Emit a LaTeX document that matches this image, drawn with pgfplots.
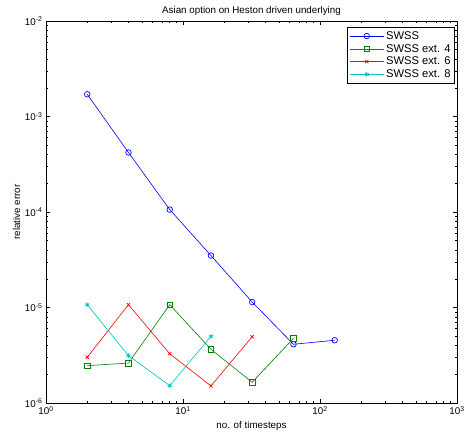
\documentclass[border=0pt]{standalone}
\usepackage{fontspec}
\setmainfont{Liberation Sans}
\usepackage{pgfplots}
\pgfplotsset{compat=1.18}
\usetikzlibrary{calc}
\definecolor{mgreen}{rgb}{0,0.5,0}
\definecolor{mcyan}{rgb}{0,0.75,0.75}
\newcommand\tl[1]{10\textsuperscript{#1}}

\begin{document}
\begin{tikzpicture}
\begin{axis}[
    name=ax,
    scale only axis,
    width=411bp, height=382bp,
    xmode=log, ymode=log,
    xmin=1, xmax=1000,
    ymin=1e-6, ymax=1e-2,
    xtick={1,10,100,1000},
    xticklabels={\tl{0},\tl{1},\tl{2},\tl{3}},
    ytick={1e-6,1e-5,1e-4,1e-3,1e-2},
    yticklabels={\tl{-6},\tl{-5},\tl{-4},\tl{-3},\tl{-2}},
    tick align=inside,
    major tick length=4bp,
    minor tick length=2bp,
    every tick/.style={black, line width=0.5bp},
    axis line style={line width=0.8bp},
    font=\fontsize{9.8bp}{11bp}\selectfont,
    ticklabel style={font=\fontsize{9.8bp}{11bp}\selectfont},
    title={Asian option on Heston driven underlying},
    title style={yshift=-4bp},
    xlabel={no. of timesteps},
    ylabel={relative error},
    xlabel style={yshift=0bp},
    ylabel style={yshift=-2bp},
    legend style={at={(1,1)}, anchor=north east, xshift=-2bp, yshift=-6bp,
        draw=black, line width=0.8bp, font=\fontsize{11.2bp}{13bp}\selectfont,
        row sep=-0.5bp, inner sep=2bp},
    legend cell align=left,
    legend image code/.code={
        \draw[mark repeat=2,mark phase=2] plot coordinates {(0bp,0bp) (17bp,0bp) (34bp,0bp)};
    },
    every axis plot/.append style={line width=0.6bp},
]
\addplot[color=blue, mark=o, mark size=2.8bp, mark options={line width=0.7bp}] coordinates {
    (2,1.71e-3) (4,4.2e-4) (8,1.06e-4) (16,3.5e-5) (32,1.14e-5) (64,4.12e-6) (128,4.54e-6)
};
\addlegendentry{SWSS}
\addplot[color=mgreen, mark=square, mark size=2.8bp, mark options={line width=0.7bp}] coordinates {
    (2,2.46e-6) (4,2.62e-6) (8,1.07e-5) (16,3.65e-6) (32,1.65e-6) (64,4.75e-6)
};
\addlegendentry{SWSS ext. 4}
\addplot[color=red, mark=x, mark size=2.2bp, mark options={line width=0.7bp}] coordinates {
    (2,3.01e-6) (4,1.07e-5) (8,3.28e-6) (16,1.51e-6) (32,4.94e-6)
};
\addlegendentry{SWSS ext. 6}
\addplot[color=mcyan, mark=asterisk, mark size=2.2bp, mark options={line width=0.8bp}] coordinates {
    (2,1.07e-5) (4,3.13e-6) (8,1.52e-6) (16,4.98e-6)
};
\addlegendentry{SWSS ext. 8}
\end{axis}
\pgfresetboundingbox
\path ($(ax.south west)+(-46bp,-34bp)$) rectangle ($(ax.north east)+(10bp,21bp)$);
\end{tikzpicture}
\end{document}
